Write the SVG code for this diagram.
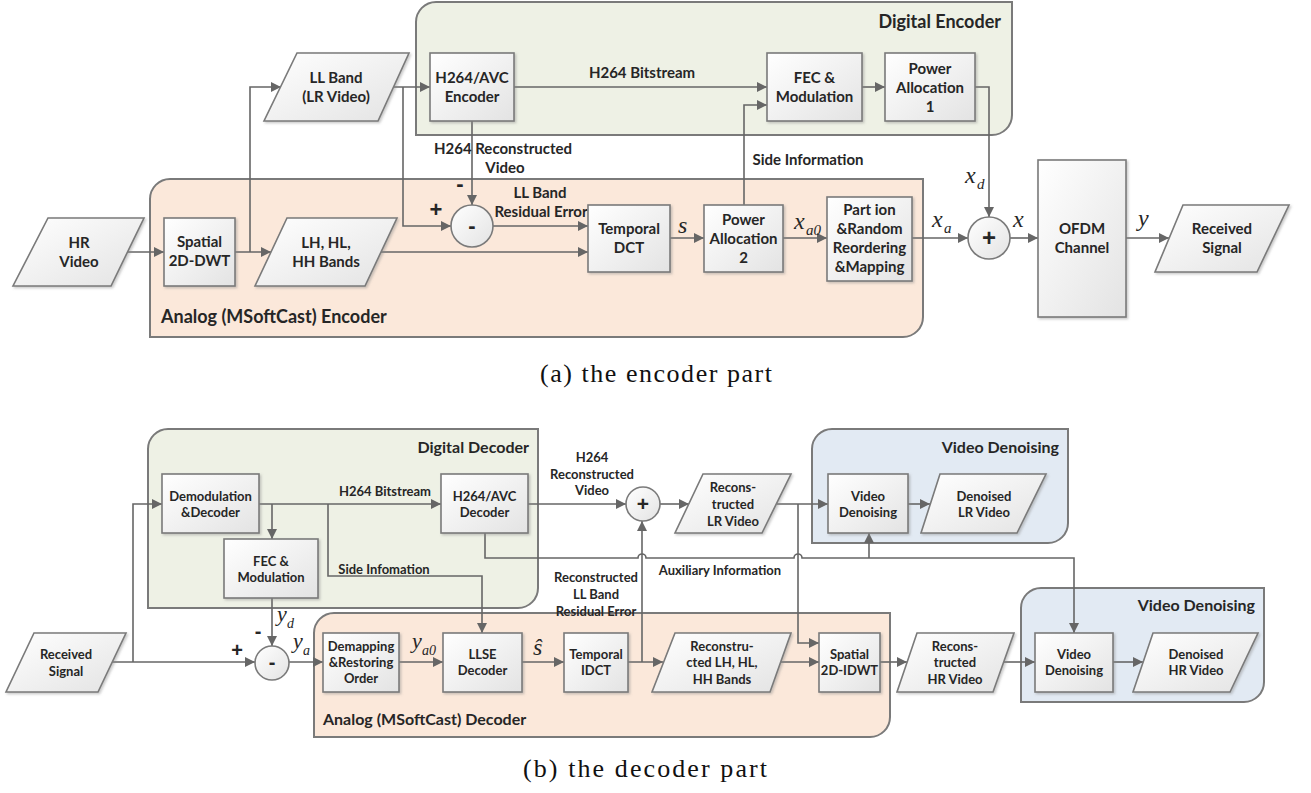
<svg xmlns="http://www.w3.org/2000/svg" width="1311" height="793" viewBox="0 0 1311 793">
<style>
.t{font-family:Lato,"Open Sans","Liberation Sans",sans-serif;font-weight:bold;fill:#262626;text-anchor:middle}
.e{font-size:15px}
.d{font-size:13px}
.title{font-family:Lato,"Open Sans","Liberation Sans",sans-serif;font-weight:bold;fill:#262626}
.tl{font-size:18px}
.td{font-size:16px}
.m{font-family:"Liberation Serif","Times New Roman",serif;font-style:italic;fill:#262626}
.sign{font-family:"Liberation Sans",Arial,sans-serif;font-weight:bold;fill:#262626;text-anchor:middle}
.cap{font-family:"Liberation Serif","Times New Roman",serif;font-size:26px;fill:#111}
.box{fill:url(#bg);stroke:#7a7a7a;stroke-width:1.6;filter:url(#sh)}
.circ{fill:url(#bg);stroke:#7a7a7a;stroke-width:1.6}
.cg{fill:#EEF1E5;stroke:#7a7a7a;stroke-width:2}
.ca{fill:#FBE8DA;stroke:#7a7a7a;stroke-width:2}
.cb{fill:#E2EAF3;stroke:#7a7a7a;stroke-width:2}
.c{fill:none;stroke:#666;stroke-width:1.6;marker-end:url(#ar)}
.n{fill:none;stroke:#666;stroke-width:1.6}
</style>
<defs>
<linearGradient id="bg" x1="0" y1="0" x2="1" y2="1">
<stop offset="0" stop-color="#ffffff"/>
<stop offset="1" stop-color="#e3e3e3"/>
</linearGradient>
<filter id="sh" x="-10%" y="-10%" width="130%" height="130%">
<feDropShadow dx="1.5" dy="1.5" stdDeviation="1" flood-color="#888" flood-opacity="0.45"/>
</filter>
<marker id="ar" markerUnits="userSpaceOnUse" markerWidth="11" markerHeight="10" refX="10" refY="5" orient="auto">
<path d="M0,0 L10,5 L0,10 z" fill="#666"/>
</marker>
</defs>
<rect width="1311" height="793" fill="#fff"/>

<!-- containers -->
<g id="digital-encoder">
<path class="cg" d="M416,22 A20,20 0 0 1 436,2 H1012 V115 A20,20 0 0 1 992,135 H416 Z"/>
<text class="title tl" x="1001" y="28" text-anchor="end">Digital Encoder</text>
</g>
<g id="analog-encoder">
<path class="ca" d="M150,199 A20,20 0 0 1 170,179 H923 V317 A20,20 0 0 1 903,337 H150 Z"/>
<text class="title tl" x="161" y="323">Analog (MSoftCast) Encoder</text>
</g>
<g id="digital-decoder">
<path class="cg" d="M148,449 A20,20 0 0 1 168,429 H538 V588 A20,20 0 0 1 518,608 H148 Z"/>
<text class="title td" x="529" y="453" text-anchor="end">Digital Decoder</text>
</g>
<g id="analog-decoder">
<path class="ca" d="M314,633 A20,20 0 0 1 334,613 H890 V717 A20,20 0 0 1 870,737 H314 Z"/>
<text class="title td" x="323" y="725">Analog (MSoftCast) Decoder</text>
</g>
<g id="video-denoising-lr">
<path class="cb" d="M812,449 A20,20 0 0 1 832,429 H1068 V523 A20,20 0 0 1 1048,543 H812 Z"/>
<text class="title td" x="1059" y="453" text-anchor="end">Video Denoising</text>
</g>
<g id="video-denoising-hr">
<path class="cb" d="M1021,608 A20,20 0 0 1 1041,588 H1264 V682 A20,20 0 0 1 1244,702 H1021 Z"/>
<text class="title td" x="1255" y="611" text-anchor="end">Video Denoising</text>
</g>

<!-- connectors -->
<g id="connectors">
<path class="c" d="M127,252 H164"/>
<path class="c" d="M235,252 H271"/>
<path class="c" d="M250,252 V87 H281"/>
<path class="c" d="M393,87 H430"/>
<path class="c" d="M403,87 V226 H451"/>
<path class="c" d="M472,121 V205"/>
<path class="c" d="M493,226 H588"/>
<path class="c" d="M381,252 H588"/>
<path class="c" d="M670,238 H704"/>
<path class="c" d="M744,205 V105 H767"/>
<path class="c" d="M514,87 H767"/>
<path class="c" d="M862,87 H885"/>
<path class="c" d="M975,87 H989 V217"/>
<path class="c" d="M783,238 H827"/>
<path class="c" d="M912,238 H968"/>
<path class="c" d="M1010,238 H1038"/>
<path class="c" d="M1126,238 H1169"/>

<path class="c" d="M112,662 H255"/>
<path class="c" d="M133,662 V504 H162"/>
<path class="c" d="M259,504 H441"/>
<path class="c" d="M272,504 V539"/>
<path class="c" d="M328,504 V576 H482 V633"/>
<path class="c" d="M272,598 V646"/>
<path class="c" d="M289,662 H323"/>
<path class="c" d="M399,662 H443"/>
<path class="c" d="M522,662 H564"/>
<path class="c" d="M628,662 H663"/>
<path class="c" d="M642,662 V521"/>
<path class="c" d="M528,504 H626"/>
<path class="c" d="M660,504 H689"/>
<path class="c" d="M777,504 H828"/>
<path class="c" d="M798,504 V643 H819"/>
<path class="c" d="M780,662 H819"/>
<path class="c" d="M880,662 H907"/>
<path class="c" d="M1003,662 H1035"/>
<path class="c" d="M1113,662 H1143"/>
<path class="c" d="M908,504 H930"/>
<path class="c" d="M485,533 V558 H638 A4,4 0 0 1 646,558 H794 A4,4 0 0 1 802,558 H1074 V633"/>
<path class="c" d="M869,558 V533"/>

<!-- connector labels -->
<text class="t e" x="642" y="78">H264 Bitstream</text>
<text class="t e" x="503" y="154">H264 Reconstructed</text>
<text class="t e" x="505" y="173">Video</text>
<text class="t e" x="540" y="198">LL Band</text>
<text class="t e" x="541" y="217">Residual Error</text>
<text class="t e" x="808" y="165">Side Information</text>
<text class="sign" x="436" y="217" font-size="22">+</text>
<text class="sign" x="460" y="191" font-size="22">-</text>

<text class="m" x="678" y="233" font-size="24">s</text>
<text class="m" x="794" y="229" font-size="24">x</text><text class="m" x="806" y="235" font-size="15">a0</text>
<text class="m" x="932" y="227" font-size="24">x</text><text class="m" x="944" y="233" font-size="15">a</text>
<text class="m" x="965" y="183" font-size="24">x</text><text class="m" x="977" y="189" font-size="15">d</text>
<text class="m" x="1013" y="227" font-size="24">x</text>
<text class="m" x="1138" y="226" font-size="24">y</text>

<text class="t d" x="385" y="496">H264 Bitstream</text>
<text class="t d" x="384" y="574">Side Infomation</text>
<text class="t d" x="592" y="462">H264</text>
<text class="t d" x="592" y="479">Reconstructed</text>
<text class="t d" x="592" y="495">Video</text>
<text class="t d" x="596" y="582">Reconstructed</text>
<text class="t d" x="596" y="599">LL Band</text>
<text class="t d" x="596" y="616">Residual Error</text>
<text class="t d" x="720" y="575">Auxiliary Information</text>
<text class="sign" x="258" y="638" font-size="20">-</text>
<text class="sign" x="237" y="657" font-size="20">+</text>

<text class="m" x="277" y="621" font-size="22">y</text><text class="m" x="287" y="628" font-size="14">d</text>
<text class="m" x="293" y="648" font-size="22">y</text><text class="m" x="303" y="655" font-size="14">a</text>
<text class="m" x="412" y="648" font-size="22">y</text><text class="m" x="422" y="655" font-size="14">a0</text>
<text class="m" x="533" y="655" font-size="24">ŝ</text>
</g>

<!-- encoder nodes -->
<g id="hr-video">
<polygon class="box" points="48,218 144,218 111,286 13,286"/>
<text class="t e" x="79" y="248">HR</text>
<text class="t e" x="79" y="267">Video</text>
</g>
<g id="spatial-dwt">
<rect class="box" x="164" y="218" width="71" height="68"/>
<text class="t e" x="199.5" y="247">Spatial</text>
<text class="t e" x="199.5" y="266">2D-DWT</text>
</g>
<g id="ll-band">
<polygon class="box" points="297,53 409,53 378,121 264,121"/>
<text class="t e" x="336" y="83">LL Band</text>
<text class="t e" x="336" y="102">(LR Video)</text>
</g>
<g id="lh-bands">
<polygon class="box" points="287,218 397,218 365,286 255,286"/>
<text class="t e" x="326" y="248">LH, HL,</text>
<text class="t e" x="326" y="267">HH Bands</text>
</g>
<g id="h264-encoder">
<rect class="box" x="430" y="53" width="84" height="68"/>
<text class="t e" x="472" y="83">H264/AVC</text>
<text class="t e" x="472" y="102">Encoder</text>
</g>
<g id="fec-mod-enc">
<rect class="box" x="767" y="53" width="95" height="68"/>
<text class="t e" x="814.5" y="83">FEC &amp;</text>
<text class="t e" x="814.5" y="102">Modulation</text>
</g>
<g id="power-alloc-1">
<rect class="box" x="885" y="53" width="90" height="68"/>
<text class="t e" x="930" y="74">Power</text>
<text class="t e" x="930" y="93">Allocation</text>
<text class="t e" x="930" y="112">1</text>
</g>
<g id="minus-enc">
<circle class="circ" cx="472" cy="226" r="21"/>
<text class="sign" x="472" y="233" font-size="22">-</text>
</g>
<g id="temporal-dct">
<rect class="box" x="588" y="205" width="82" height="67"/>
<text class="t e" x="629" y="234">Temporal</text>
<text class="t e" x="629" y="253">DCT</text>
</g>
<g id="power-alloc-2">
<rect class="box" x="704" y="205" width="79" height="67"/>
<text class="t e" x="743.5" y="225">Power</text>
<text class="t e" x="743.5" y="244">Allocation</text>
<text class="t e" x="743.5" y="263">2</text>
</g>
<g id="partition">
<rect class="box" x="827" y="197" width="85" height="84"/>
<text class="t e" x="869.5" y="215">Part ion</text>
<text class="t e" x="869.5" y="234">&amp;Random</text>
<text class="t e" x="869.5" y="253">Reordering</text>
<text class="t e" x="869.5" y="272">&amp;Mapping</text>
</g>
<g id="plus-enc">
<circle class="circ" cx="989" cy="238" r="21"/>
<text class="sign" x="989" y="246" font-size="24">+</text>
</g>
<g id="ofdm">
<rect class="box" x="1038" y="160" width="88" height="157"/>
<text class="t e" x="1082" y="234">OFDM</text>
<text class="t e" x="1082" y="253">Channel</text>
</g>
<g id="received-enc">
<polygon class="box" points="1183,205 1289,205 1257,272 1155,272"/>
<text class="t e" x="1222" y="234">Received</text>
<text class="t e" x="1222" y="253">Signal</text>
</g>

<!-- decoder nodes -->
<g id="received-dec">
<polygon class="box" points="34,633 126,633 98,692 6,692"/>
<text class="t d" x="66" y="659">Received</text>
<text class="t d" x="66" y="676">Signal</text>
</g>
<g id="demod">
<rect class="box" x="162" y="474" width="97" height="59"/>
<text class="t d" x="210.5" y="501">Demodulation</text>
<text class="t d" x="210.5" y="517">&amp;Decoder</text>
</g>
<g id="fec-mod-dec">
<rect class="box" x="224" y="539" width="94" height="59"/>
<text class="t d" x="271" y="566">FEC &amp;</text>
<text class="t d" x="271" y="582">Modulation</text>
</g>
<g id="h264-decoder">
<rect class="box" x="441" y="474" width="87" height="59"/>
<text class="t d" x="484.5" y="501">H264/AVC</text>
<text class="t d" x="484.5" y="517">Decoder</text>
</g>
<g id="minus-dec">
<circle class="circ" cx="272" cy="663" r="17"/>
<text class="sign" x="272" y="669" font-size="20">-</text>
</g>
<g id="demapping">
<rect class="box" x="323" y="633" width="76" height="59"/>
<text class="t d" x="361" y="651">Demapping</text>
<text class="t d" x="361" y="667">&amp;Restoring</text>
<text class="t d" x="361" y="683">Order</text>
</g>
<g id="llse">
<rect class="box" x="443" y="633" width="79" height="59"/>
<text class="t d" x="482.5" y="659">LLSE</text>
<text class="t d" x="482.5" y="675">Decoder</text>
</g>
<g id="temporal-idct">
<rect class="box" x="564" y="633" width="64" height="59"/>
<text class="t d" x="596" y="659">Temporal</text>
<text class="t d" x="596" y="675">IDCT</text>
</g>
<g id="plus-dec">
<circle class="circ" cx="643" cy="504" r="17"/>
<text class="sign" x="643" y="511" font-size="21">+</text>
</g>
<g id="recon-lr">
<polygon class="box" points="703,474 791,474 762,533 675,533"/>
<text class="t d" x="733" y="492">Recons-</text>
<text class="t d" x="733" y="509">tructed</text>
<text class="t d" x="733" y="526">LR Video</text>
</g>
<g id="vd-lr">
<rect class="box" x="828" y="474" width="80" height="59"/>
<text class="t d" x="868" y="501">Video</text>
<text class="t d" x="868" y="517">Denoising</text>
</g>
<g id="denoised-lr">
<polygon class="box" points="940,474 1046,474 1017,533 921,533"/>
<text class="t d" x="984" y="501">Denoised</text>
<text class="t d" x="984" y="517">LR Video</text>
</g>
<g id="recon-lh">
<polygon class="box" points="675,633 791,633 770,692 652,692"/>
<text class="t d" x="722" y="651">Reconstru-</text>
<text class="t d" x="722" y="667">cted LH, HL,</text>
<text class="t d" x="722" y="684">HH Bands</text>
</g>
<g id="spatial-idwt">
<rect class="box" x="819" y="633" width="61" height="59"/>
<text class="t d" x="849.5" y="659">Spatial</text>
<text class="t d" x="849.5" y="675">2D-IDWT</text>
</g>
<g id="recon-hr">
<polygon class="box" points="917,633 1014,633 993,692 897,692"/>
<text class="t d" x="955" y="651">Recons-</text>
<text class="t d" x="955" y="667">tructed</text>
<text class="t d" x="955" y="684">HR Video</text>
</g>
<g id="vd-hr">
<rect class="box" x="1035" y="633" width="78" height="59"/>
<text class="t d" x="1074" y="659">Video</text>
<text class="t d" x="1074" y="675">Denoising</text>
</g>
<g id="denoised-hr">
<polygon class="box" points="1153,633 1258,633 1230,692 1133,692"/>
<text class="t d" x="1196" y="659">Denoised</text>
<text class="t d" x="1196" y="675">HR Video</text>
</g>

<!-- captions -->
<text class="cap" x="540" y="382" textLength="232" lengthAdjust="spacing">(a) the encoder part</text>
<text class="cap" x="523" y="777" textLength="244" lengthAdjust="spacing">(b)  the decoder part</text>
</svg>
